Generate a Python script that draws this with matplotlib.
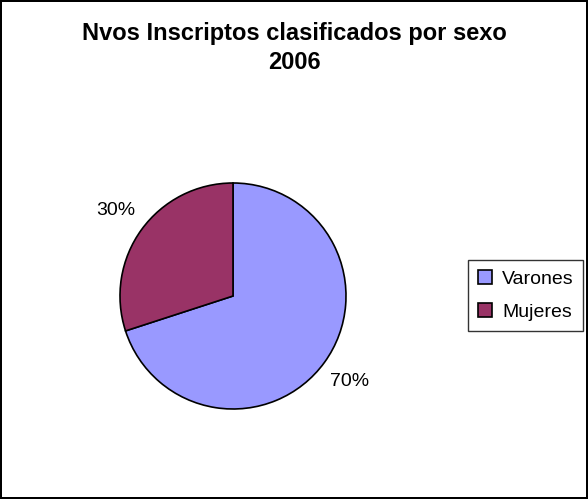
import matplotlib.pyplot as plt

plt.rcParams['font.family'] = ['Liberation Sans', 'DejaVu Sans']

labels = ['Varones', 'Mujeres']
values = [70, 30]
colors = ['#9999FF', '#993366']

fig = plt.figure(figsize=(5.88, 4.99), dpi=100)
fig.patch.set_edgecolor('black')
fig.patch.set_linewidth(1.5)

# pie area: centre (233, 296) px, radius 113 px
ax = fig.add_axes([(233 - 113) / 588, (499 - 296 - 113) / 499, 226 / 588, 226 / 499])
wedges, texts, autotexts = ax.pie(values, colors=colors, startangle=90, counterclock=False,
                                  autopct='%1.0f%%', pctdistance=1.28,
                                  wedgeprops=dict(edgecolor='black', linewidth=1.2),
                                  textprops=dict(fontsize=14))
ax.set_xlim(-1, 1)
ax.set_ylim(-1, 1)
ax.set_aspect('equal')

fig.text(0.5, 1 - 48 / 499, 'Nvos Inscriptos clasificados por sexo\n2006', ha='center', va='center',
         fontsize=17, fontweight='bold', linespacing=1.35)

leg = fig.legend(wedges, labels, loc='upper left', bbox_to_anchor=(468 / 588, 1 - 260 / 499),
                 fontsize=14, frameon=True, fancybox=False, handlelength=0.75, handleheight=0.75,
                 handletextpad=0.5, borderpad=0.5, labelspacing=0.8, borderaxespad=0)
leg.get_frame().set_edgecolor('black')
leg.get_frame().set_linewidth(1.0)

plt.savefig('out.png', dpi=100)
